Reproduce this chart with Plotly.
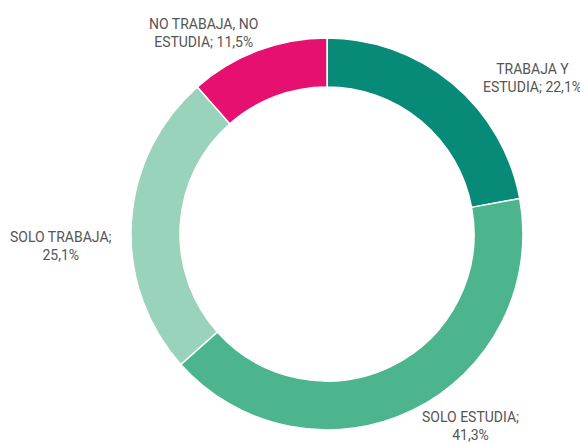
import plotly.graph_objects as go

categories = ["TRABAJA Y ESTUDIA", "SOLO ESTUDIA", "SOLO TRABAJA", "NO TRABAJA, NO ESTUDIA"]
values = [22.1, 41.3, 25.1, 11.5]
label_texts = ["TRABAJA Y<br>ESTUDIA; 22,1%", "SOLO ESTUDIA;<br>41,3%", "SOLO TRABAJA;<br>25,1%", "NO TRABAJA, NO<br>ESTUDIA; 11,5%"]
colors = ["#078a78", "#4db58d", "#9ad3bc", "#e5106f"]

W, H = 588, 444
off = 8  # page body margin
cx, cy, R = 327 - off, 234 - off, 196

fig = go.Figure(go.Pie(
    labels=categories, values=values, sort=False, direction="clockwise", rotation=0,
    hole=0.75, textinfo="none", hoverinfo="label+percent",
    marker=dict(colors=colors, line=dict(color="white", width=1.5)),
    domain=dict(x=[(cx - R) / W, (cx + R) / W], y=[(H - cy - R) / H, (H - cy + R) / H]),
    showlegend=False,
))

label_pos = [(532, 78), (470, 426), (61, 246), (203, 33)]
for txt, (x, y) in zip(label_texts, label_pos):
    fig.add_annotation(x=(x - off) / W, y=1 - (y - off) / H, xref="paper", yref="paper", text=txt,
                       showarrow=False, align="center", xanchor="center", yanchor="middle",
                       font=dict(family="Roboto", size=14, color="#555555"))

fig.update_layout(width=W, height=H, margin=dict(l=0, r=0, t=0, b=0),
                  paper_bgcolor="white", plot_bgcolor="white")
fig.write_html("out.html")
